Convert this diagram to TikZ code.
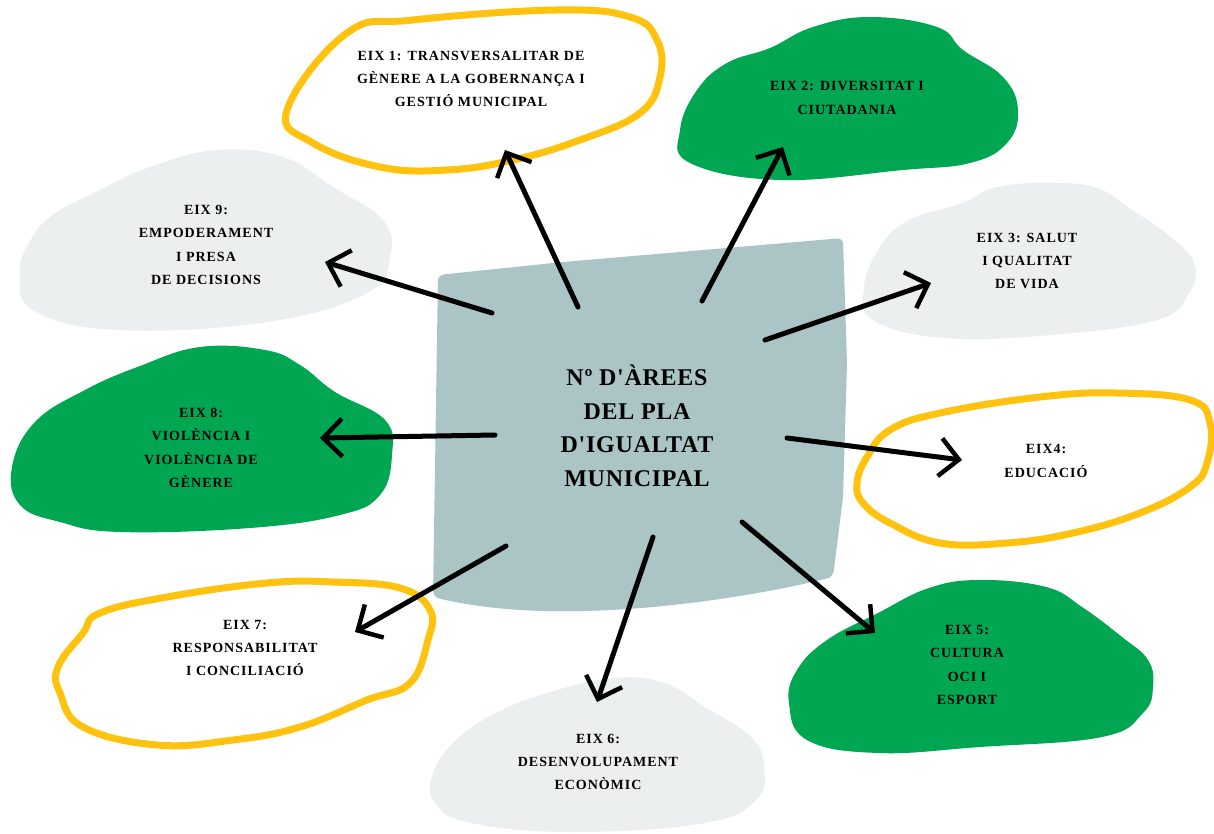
\documentclass[tikz,border=0pt]{standalone}
\usepackage{fontspec}
\setmainfont{Liberation Serif}
\newfontfamily\eixfont[LetterSpace=7]{Liberation Serif}
\newfontfamily\centrefont[LetterSpace=3]{Liberation Serif}
\usetikzlibrary{arrows.meta, positioning}
\definecolor{eixgreen}{RGB}{0,166,81}
\definecolor{eixgrey}{RGB}{236,239,240}
\definecolor{eixyellow}{RGB}{255,194,14}
\definecolor{eixblue}{RGB}{171,196,197}

\begin{document}
\begin{tikzpicture}[x=1pt,y=-1pt,
    eixtext/.style={align=center,inner sep=0pt,font=\eixfont\bfseries\fontsize{14}{23.2}\selectfont},
    ring/.style={draw=eixyellow,line width=7pt,line join=round},
    arr/.style={-{Straight Barb[length=19pt,width=38pt,line width=4.5pt]},line width=5pt,line cap=round}]

    \useasboundingbox (0,0) rectangle (1214,834);

    % central square
    \fill[eixblue,rounded corners=6pt] (438,275) -- (563,262) -- (843,238) -- (847,363) -- (843,497) -- (833,577)
        .. controls (740,600) and (560,628) .. (433,597) -- cycle;

    % blobs
    \draw[ring] plot[smooth cycle,tension=0.7] coordinates {(287,110) (347,33) (413,20) (557,10) (630,17) (657,40)
        (660,77) (640,113) (580,140) (513,160) (447,170) (380,167) (313,143)};
    \fill[eixgreen] plot[smooth cycle,tension=0.7] coordinates {(680,130) (690,163) (780,180) (903,170) (970,163)
        (1007,143) (1018,110) (1003,77) (963,50) (937,27) (870,17) (813,27) (770,48) (727,63) (697,90)};
    \fill[eixgrey] plot[smooth cycle,tension=0.7] coordinates {(864,287) (873,320) (944,338) (1051,335) (1157,320)
        (1189,293) (1194,263) (1171,237) (1132,210) (1097,188) (1051,183) (997,187) (962,203) (909,220) (880,247)};
    \draw[ring] plot[smooth cycle,tension=0.7] coordinates {(857,483) (867,457) (890,430) (940,413) (1040,397)
        (1117,393) (1190,400) (1210,423) (1207,463) (1190,487) (1140,513) (1073,533) (1007,543) (940,543)
        (890,523) (863,503)};
    \fill[eixgreen] plot[smooth cycle,tension=0.7] coordinates {(929,588) (980,580) (1046,587) (1082,607) (1122,637)
        (1148,660) (1153,687) (1143,713) (1102,737) (980,747) (878,753) (807,740) (789,703) (797,670) (827,640)
        (878,613)};
    \fill[eixgrey] plot[smooth cycle,tension=0.7] coordinates {(613,678) (664,683) (705,707) (751,737) (764,767)
        (756,800) (705,823) (573,832) (471,823) (435,803) (433,773) (456,740) (496,713) (547,693)};
    \draw[ring] plot[smooth cycle,tension=0.7] coordinates {(157,745) (83,727) (60,693) (58,667) (83,633) (100,613)
        (167,597) (267,583) (333,582) (400,588) (430,610) (428,640) (410,683) (367,700) (300,727) (233,740)};
    \fill[eixgreen] plot[smooth cycle,tension=0.7] coordinates {(12,467) (20,505) (60,522) (120,532) (250,528)
        (340,515) (380,495) (392,455) (385,420) (335,392) (300,365) (265,350) (200,347) (140,366) (85,390) (35,422)};
    \fill[eixgrey] plot[smooth cycle,tension=0.7] coordinates {(20,273) (33,310) (117,330) (267,322) (367,293)
        (390,257) (383,220) (333,187) (283,157) (217,150) (150,167) (100,190) (50,217) (27,247)};

    % texts
    \node[eixtext,font=\centrefont\bfseries\fontsize{24}{33.6}\selectfont] (c) at (637,426)
        {Nº D'ÀREES\\DEL PLA\\D'IGUALTAT\\MUNICIPAL};
    \node[eixtext] (e_1) at (471,79) {EIX 1: TRANSVERSALITAR DE\\GÈNERE A LA GOBERNANÇA I\\GESTIÓ MUNICIPAL};
    \node[eixtext] (e_2) at (847,98) {EIX 2: DIVERSITAT I\\CIUTADANIA};
    \node[eixtext] (e_3) at (1027,261) {EIX 3: SALUT\\I QUALITAT\\DE VIDA};
    \node[eixtext] (e_4) at (1046,461) {EIX4:\\EDUCACIÓ};
    \node[eixtext] (e_5) at (967,665) {EIX 5:\\CULTURA\\OCI I\\ESPORT};
    \node[eixtext] (e_6) at (598,762) {EIX 6:\\DESENVOLUPAMENT\\ECONÒMIC};
    \node[eixtext] (e_7) at (245,648) {EIX 7:\\RESPONSABILITAT\\I CONCILIACIÓ};
    \node[eixtext] (e_8) at (201,448) {EIX 8:\\VIOLÈNCIA I\\VIOLÈNCIA DE\\GÈNERE};
    \node[eixtext] (e_9) at (206,245) {EIX 9:\\EMPODERAMENT\\I PRESA\\DE DECISIONS};

    % arrow ends
    \coordinate (t_1) at (578,307); \coordinate (h_1) at (505,150);
    \coordinate (t_2) at (702,301); \coordinate (h_2) at (783,147);
    \coordinate (t_3) at (765,340); \coordinate (h_3) at (931,283);
    \coordinate (t_4) at (787,438); \coordinate (h_4) at (962,460);
    \coordinate (t_5) at (742,522); \coordinate (h_5) at (875,633);
    \coordinate (t_6) at (653,537); \coordinate (h_6) at (597,702);
    \coordinate (t_7) at (506,546); \coordinate (h_7) at (355,632);
    \coordinate (t_8) at (495,435); \coordinate (h_8) at (320,438);
    \coordinate (t_9) at (492,313); \coordinate (h_9) at (325,262);

    \path[arr] (t_1) edge (h_1)
               (t_2) edge (h_2)
               (t_3) edge (h_3)
               (t_4) edge (h_4)
               (t_5) edge (h_5)
               (t_6) edge (h_6)
               (t_7) edge (h_7)
               (t_8) edge (h_8)
               (t_9) edge (h_9);
\end{tikzpicture}
\end{document}
